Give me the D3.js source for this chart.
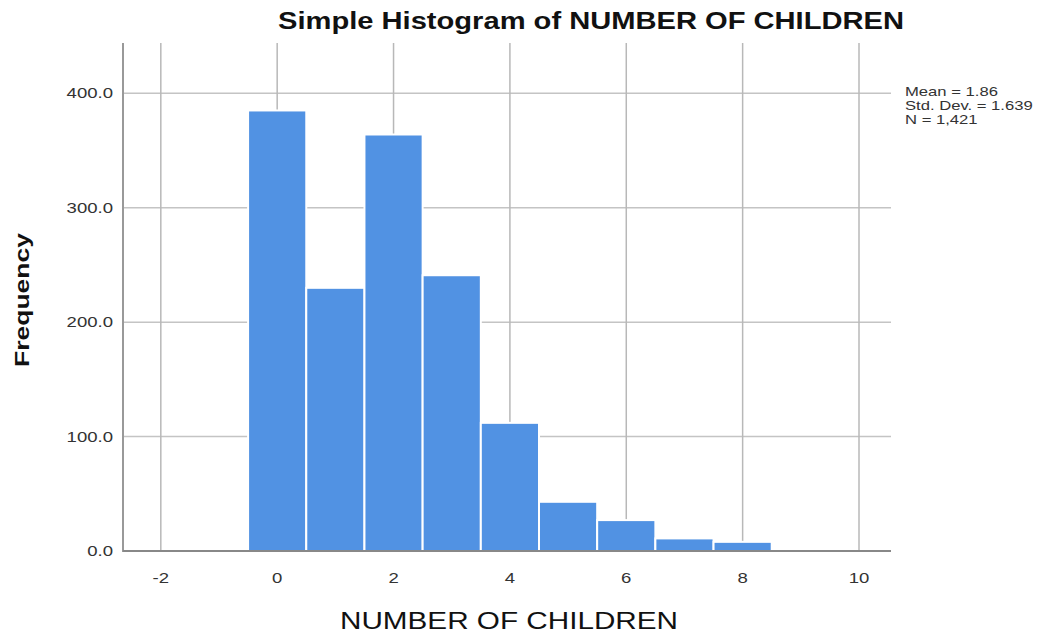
<!DOCTYPE html>
<html><head><meta charset="utf-8">
<script src="https://cdn.jsdelivr.net/npm/d3@7"></script>
<style>body{margin:0;background:#fff;} text{font-family:"Liberation Sans",Arial,sans-serif;}</style>
</head><body><svg id="c" width="1060" height="634"></svg>
<script>
const binCenters = [0,1,2,3,4,5,6,7,8];
const frequencies = [385,230,364,241,112,43,27,11,8];
const xTicks = [-2,0,2,4,6,8,10];
const yTicks = [0,100,200,300,400];
const statsLines = ["Mean = 1.86","Std. Dev. = 1.639","N = 1,421"];
const title = "Simple Histogram of NUMBER OF CHILDREN";
const xLabel = "NUMBER OF CHILDREN";
const yLabel = "Frequency";

const svg = d3.select("#c");
const L=123, R=891, T=43, B=551;
const x = d3.scaleLinear().domain([-2.65,10.55]).range([L,R]);
const y = d3.scaleLinear().domain([0,400]).range([B,93.3]);
const SX = 1.28;

// gridlines
svg.append("g").selectAll("line").data(yTicks.filter(d=>d>0)).join("line")
  .attr("x1",L).attr("x2",R).attr("y1",d=>y(d)).attr("y2",d=>y(d))
  .attr("stroke","#c4c4c4").attr("stroke-width",1.5);
svg.append("g").selectAll("line").data(xTicks).join("line")
  .attr("x1",d=>x(d)).attr("x2",d=>x(d)).attr("y1",T).attr("y2",B)
  .attr("stroke","#b8b8b8").attr("stroke-width",1.5);

// bars
svg.append("g").selectAll("rect").data(binCenters).join("rect")
  .attr("x",(d)=>x(d-0.5)).attr("width",(d)=>x(d+0.5)-x(d-0.5))
  .attr("y",(d,i)=>y(frequencies[i])).attr("height",(d,i)=>B-y(frequencies[i]))
  .attr("fill","#5192e3").attr("stroke","#ffffff").attr("stroke-width",2);

// axes lines
svg.append("line").attr("x1",L).attr("x2",L).attr("y1",T).attr("y2",B+1).attr("stroke","#999").attr("stroke-width",2);
svg.append("line").attr("x1",L).attr("x2",R).attr("y1",B).attr("y2",B).attr("stroke","#888").attr("stroke-width",2);

// tick labels
svg.append("g").selectAll("text").data(yTicks).join("text")
  .attr("transform",d=>`translate(113,${y(d)+5}) scale(${SX},1)`).attr("text-anchor","end")
  .attr("font-size",14.5).attr("fill","#333").text(d=>d3.format(".1f")(d));
svg.append("g").selectAll("text").data(xTicks).join("text")
  .attr("transform",d=>`translate(${x(d)},583) scale(${SX},1)`).attr("text-anchor","middle")
  .attr("font-size",14.5).attr("fill","#333").text(d=>d);

// titles
svg.append("text").attr("x",591).attr("y",29).attr("text-anchor","middle")
  .attr("font-size",23).attr("font-weight","bold").attr("fill","#111")
  .attr("textLength",626).attr("lengthAdjust","spacingAndGlyphs").text(title);
svg.append("text").attr("x",509).attr("y",629).attr("text-anchor","middle")
  .attr("font-size",24).attr("fill","#111")
  .attr("textLength",338).attr("lengthAdjust","spacingAndGlyphs").text(xLabel);
svg.append("text").attr("transform","translate(29,300) rotate(-90)").attr("text-anchor","middle")
  .attr("font-size",21).attr("font-weight","bold").attr("fill","#111")
  .attr("textLength",134).attr("lengthAdjust","spacingAndGlyphs").text(yLabel);

// stats
svg.append("g").selectAll("text").data(statsLines).join("text")
  .attr("transform",(d,i)=>`translate(905,${96+i*14}) scale(${SX},1)`).attr("font-size",13).attr("fill","#333").text(d=>d);
</script></body></html>
